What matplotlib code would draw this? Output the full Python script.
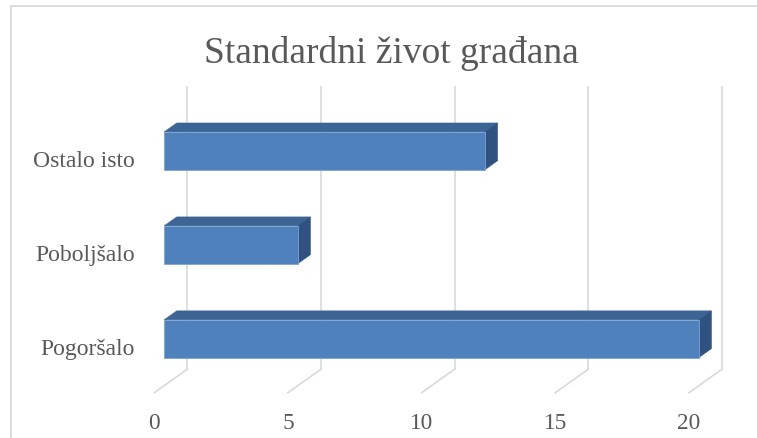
import matplotlib as mpl

mpl.use("Agg")

import matplotlib.pyplot as plt
from matplotlib.lines import Line2D
from matplotlib.patches import Polygon

# data (categories listed bottom-up, as the value axis draws them)
categories = ["Pogoršalo", "Poboljšalo", "Ostalo isto"]
values = [20, 5, 12]
x_ticks = [0, 5, 10, 15, 20]
title = "Standardni život građana"

TEXT = "#595959"
GRID = "#D9D9D9"
FRONT = "#4F81BD"
TOP = "#3C6494"
SIDE = "#2F5281"

# oblique depth of the 3-D floor, in data units (full depth)
DX = 1.235
DY = 0.25
D_FRONT, D_BACK = 0.30, 0.68
HALF = 0.201

plt.rcParams["font.family"] = ["Liberation Serif", "DejaVu Serif"]

fig = plt.figure(figsize=(7.57, 4.39), dpi=100)
ax = fig.add_axes([0.2038, 0.1032, 0.7063, 0.6420])
ax.set_xlim(0, 20)
ax.set_ylim(-0.5, len(categories) - 0.5)
for s in ax.spines.values():
    s.set_visible(False)
ax.patch.set_visible(False)

ybot, ytop = -0.5, len(categories) - 0.5
for v in x_ticks:
    ax.plot([v + DX, v + DX], [ybot + DY, ytop + DY], color=GRID, lw=1.2, clip_on=False, zorder=1)
    ax.plot([v, v + DX], [ybot, ybot + DY], color=GRID, lw=1.2, clip_on=False, zorder=1)


def pt(x, y, d):
    return (x + d * DX, y + d * DY)


for i, v in enumerate(values):
    lo, hi = i - HALF, i + HALF
    top = [pt(0, hi, D_FRONT), pt(v, hi, D_FRONT), pt(v, hi, D_BACK), pt(0, hi, D_BACK)]
    side = [pt(v, lo, D_FRONT), pt(v, lo, D_BACK), pt(v, hi, D_BACK), pt(v, hi, D_FRONT)]
    front = [pt(0, lo, D_FRONT), pt(v, lo, D_FRONT), pt(v, hi, D_FRONT), pt(0, hi, D_FRONT)]
    ax.add_patch(Polygon(top, closed=True, facecolor=TOP, edgecolor=TOP, lw=0.4, clip_on=False, zorder=3))
    ax.add_patch(Polygon(side, closed=True, facecolor=SIDE, edgecolor=SIDE, lw=0.4, clip_on=False, zorder=3))
    ax.add_patch(Polygon(front, closed=True, facecolor=FRONT, edgecolor="#7EA3D3", lw=0.6, clip_on=False, zorder=4))

ax.set_xticks(x_ticks)
ax.set_xticklabels([str(t) for t in x_ticks])
ax.set_yticks(range(len(categories)))
ax.set_yticklabels(categories)
ax.tick_params(axis="x", length=0, pad=14, labelsize=16.8, labelcolor=TEXT)
ax.tick_params(axis="y", length=0, pad=14, labelsize=17, labelcolor=TEXT)

fig.text(0.5165, 0.877, title, ha="center", va="center", fontsize=27, color=TEXT)

# chart area border (cropped on the right and bottom)
bx, by = 10.5 / 757, 1 - 7 / 439
fig.add_artist(Line2D([bx, 1.0], [by, by], transform=fig.transFigure, color=GRID, lw=1.3))
fig.add_artist(Line2D([bx, bx], [0.0, by], transform=fig.transFigure, color=GRID, lw=1.3))

fig.savefig("out.png", dpi=100, facecolor="white")
